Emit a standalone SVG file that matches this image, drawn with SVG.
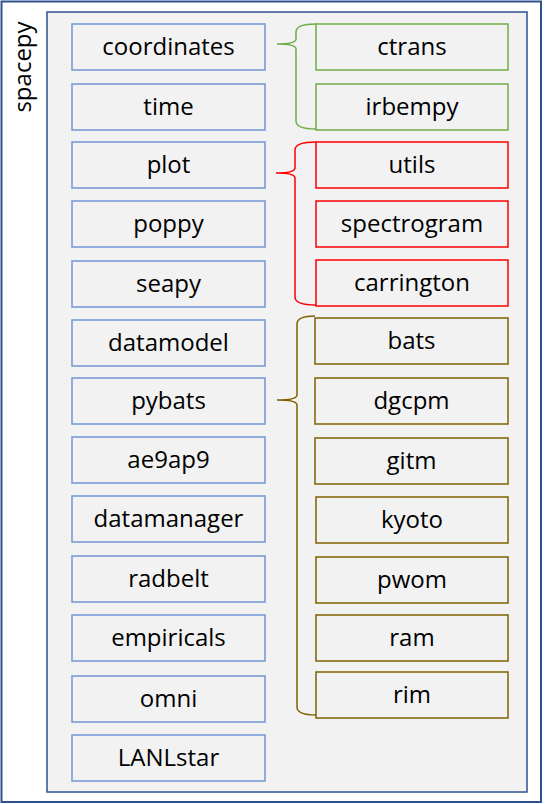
<svg xmlns="http://www.w3.org/2000/svg" width="545" height="804" viewBox="0 0 545 804">
<style>
.t{font-family:"Open Sans","Liberation Sans",sans-serif;font-size:24px;fill:#000;text-anchor:middle}
.b{fill:#f2f2f2;stroke:#7396d3;stroke-width:1.5}
.g{fill:#f2f2f2;stroke:#70ad47;stroke-width:1.5}
.r{fill:#f2f2f2;stroke:#ff0000;stroke-width:1.5}
.o{fill:#f2f2f2;stroke:#7f6000;stroke-width:1.5}
.br{fill:none;stroke-width:1.5}
</style>
<rect x="0" y="0" width="545" height="804" fill="#fff"/>
<g id="spacepy">
<rect x="1.5" y="1.5" width="539.5" height="800.5" fill="#fff" stroke="#2f528f" stroke-width="2"/>
<text class="t" transform="translate(31,67) rotate(-90)">spacepy</text>
<rect x="47" y="12" width="480" height="780" fill="#f2f2f2" stroke="#2f528f" stroke-width="1.5"/>
</g>
<g id="connectors">
<path class="br" stroke="#70ad47" d="M316,24 Q296,24 296,32 L296,39 Q296,44 277,44 Q296,44 296,49 L296,121 Q296,129 316,129"/>
<path class="br" stroke="#ff0000" d="M316,142 Q295,142 295,150 L295,168 Q295,173 276,173 Q295,173 295,178 L295,297 Q295,305 316,305"/>
<path class="br" stroke="#7f6000" d="M315,316 Q297,316 297,324 L297,395 Q297,400 277,400 Q297,400 297,405 L297,707 Q297,715 316,715"/>
</g>
<g id="coordinates"><rect class="b" x="72" y="24" width="193" height="46"/><text class="t" x="168.5" y="55">coordinates</text></g>
<g id="time"><rect class="b" x="72" y="84" width="193" height="46"/><text class="t" x="168.5" y="115">time</text></g>
<g id="plot"><rect class="b" x="72" y="142" width="193" height="46"/><text class="t" x="168.5" y="173">plot</text></g>
<g id="poppy"><rect class="b" x="72" y="201" width="193" height="46"/><text class="t" x="168.5" y="232">poppy</text></g>
<g id="seapy"><rect class="b" x="72" y="261" width="193" height="46"/><text class="t" x="168.5" y="292">seapy</text></g>
<g id="datamodel"><rect class="b" x="72" y="320" width="193" height="46"/><text class="t" x="168.5" y="351">datamodel</text></g>
<g id="pybats"><rect class="b" x="72" y="378" width="193" height="46"/><text class="t" x="168.5" y="409">pybats</text></g>
<g id="ae9ap9"><rect class="b" x="72" y="437" width="193" height="46"/><text class="t" x="168.5" y="468">ae9ap9</text></g>
<g id="datamanager"><rect class="b" x="72" y="496" width="193" height="46"/><text class="t" x="168.5" y="527">datamanager</text></g>
<g id="radbelt"><rect class="b" x="72" y="556" width="193" height="46"/><text class="t" x="168.5" y="587">radbelt</text></g>
<g id="empiricals"><rect class="b" x="72" y="615" width="193" height="46"/><text class="t" x="168.5" y="646">empiricals</text></g>
<g id="omni"><rect class="b" x="72" y="676" width="193" height="46"/><text class="t" x="168.5" y="707">omni</text></g>
<g id="LANLstar"><rect class="b" x="72" y="735" width="193" height="46"/><text class="t" x="168.5" y="766">LANLstar</text></g>
<g id="ctrans"><rect class="g" x="316" y="24" width="192" height="46"/><text class="t" x="412" y="55">ctrans</text></g>
<g id="irbempy"><rect class="g" x="316" y="84" width="192" height="46"/><text class="t" x="412" y="115">irbempy</text></g>
<g id="utils"><rect class="r" x="316" y="142" width="192" height="46"/><text class="t" x="412" y="173">utils</text></g>
<g id="spectrogram"><rect class="r" x="316" y="201" width="192" height="46"/><text class="t" x="412" y="232">spectrogram</text></g>
<g id="carrington"><rect class="r" x="316" y="260" width="192" height="46"/><text class="t" x="412" y="291">carrington</text></g>
<g id="bats"><rect class="o" x="315" y="318" width="193" height="46"/><text class="t" x="411.5" y="349">bats</text></g>
<g id="dgcpm"><rect class="o" x="315" y="378" width="193" height="46"/><text class="t" x="411.5" y="409">dgcpm</text></g>
<g id="gitm"><rect class="o" x="315" y="438" width="193" height="46"/><text class="t" x="411.5" y="469">gitm</text></g>
<g id="kyoto"><rect class="o" x="316" y="497" width="192" height="46"/><text class="t" x="412" y="528">kyoto</text></g>
<g id="pwom"><rect class="o" x="316" y="557" width="192" height="46"/><text class="t" x="412" y="588">pwom</text></g>
<g id="ram"><rect class="o" x="316" y="615" width="192" height="46"/><text class="t" x="412" y="646">ram</text></g>
<g id="rim"><rect class="o" x="316" y="672" width="192" height="46"/><text class="t" x="412" y="703">rim</text></g>
</svg>
